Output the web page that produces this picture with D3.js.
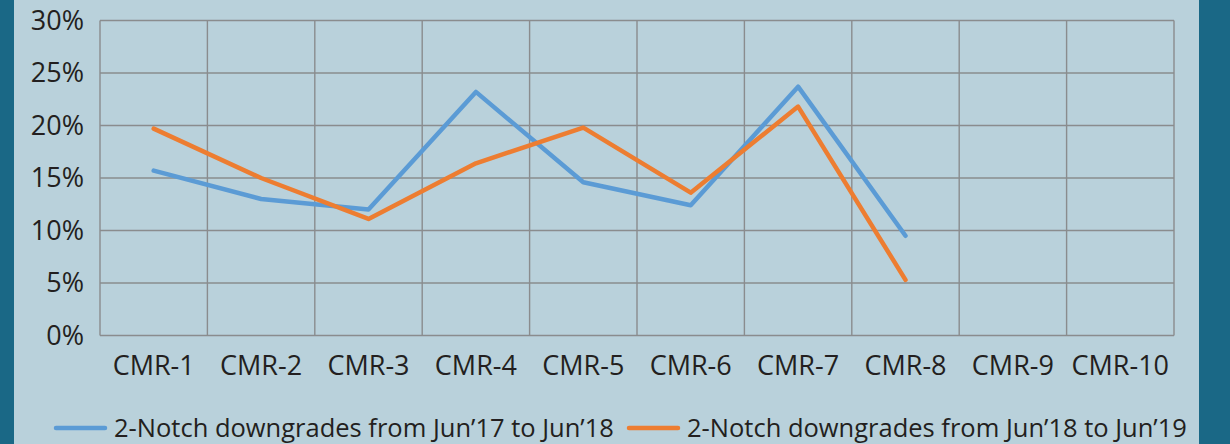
<!DOCTYPE html>
<html>
<head>
<meta charset="utf-8">
<script src="https://cdn.jsdelivr.net/npm/d3@7"></script>
<style>
  body { margin: 0; background: #1a6886; }
  svg text { font-family: "Open Sans", "Noto Sans", sans-serif; fill: #231f20; }
</style>
</head>
<body>
<svg id="chart"></svg>
<script>
// categories and series values (percent)
const categories = ['CMR-1', 'CMR-2', 'CMR-3', 'CMR-4', 'CMR-5', 'CMR-6', 'CMR-7', 'CMR-8', 'CMR-9', 'CMR-10'];
const series1 = [15.7, 13.0, 12.0, 23.2, 14.6, 12.4, 23.7, 9.5];
const series2 = [19.7, 15.0, 11.1, 16.4, 19.8, 13.6, 21.8, 5.3];
const seriesNames = ['2-Notch downgrades from Jun\u201917 to Jun\u201918', '2-Notch downgrades from Jun\u201918 to Jun\u201919'];
const yTicks = [0, 5, 10, 15, 20, 25, 30];

const width = 1230;
const height = 444;
const font = '"Open Sans", "Noto Sans", sans-serif';

const svg = d3.select('#chart')
  .attr('width', width)
  .attr('height', height);

// dark side bands + light panel
svg.append('rect').attr('width', width).attr('height', height).attr('fill', '#1a6886');
svg.append('rect').attr('x', 14).attr('width', 1185).attr('height', height).attr('fill', '#b9d1db');

const x = d3.scaleBand().domain(categories).range([100, 1174]);
const y = d3.scaleLinear().domain([0, 30]).range([335.5, 20.5]);

// horizontal grid
svg.append('g')
  .selectAll('line')
  .data(yTicks)
  .join('line')
  .attr('x1', 100).attr('x2', 1174)
  .attr('y1', d => y(d)).attr('y2', d => y(d))
  .attr('stroke', '#8a8c8e').attr('stroke-width', 1.4);

// vertical grid
const xEdges = categories.map(c => x(c)).concat([x.range()[1]]);
svg.append('g')
  .selectAll('line')
  .data(xEdges)
  .join('line')
  .attr('x1', d => d).attr('x2', d => d)
  .attr('y1', y(30)).attr('y2', y(0))
  .attr('stroke', '#8a8c8e').attr('stroke-width', 1.4);

// y axis labels
const yAxis = d3.axisLeft(y).tickValues(yTicks).tickFormat(d => d + '%').tickSize(0).tickPadding(16);
svg.append('g')
  .attr('transform', 'translate(100,0)')
  .call(yAxis)
  .call(g => g.select('.domain').remove())
  .selectAll('text')
  .attr('font-size', 27)
  .attr('font-family', font)
  .attr('fill', '#231f20');

// x axis labels
const xAxis = d3.axisBottom(x).tickSize(0).tickPadding(20);
svg.append('g')
  .attr('transform', `translate(0,${y(0)})`)
  .call(xAxis)
  .call(g => g.select('.domain').remove())
  .selectAll('text')
  .attr('font-size', 27)
  .attr('font-family', font)
  .attr('fill', '#231f20');

const line = d3.line()
  .x((d, i) => x(categories[i]) + x.bandwidth() / 2)
  .y(d => y(d));

const colors = ['#5b9bd5', '#ed7d31'];
[series1, series2].forEach((s, i) => {
  svg.append('path')
    .datum(s)
    .attr('d', line)
    .attr('fill', 'none')
    .attr('stroke', colors[i])
    .attr('stroke-width', 4.5)
    .attr('stroke-linejoin', 'round')
    .attr('stroke-linecap', 'round');
});

// legend
const legendX = [56, 629];
const legend = svg.append('g');
seriesNames.forEach((name, i) => {
  legend.append('line')
    .attr('x1', legendX[i]).attr('x2', legendX[i] + 49)
    .attr('y1', 428).attr('y2', 428)
    .attr('stroke', colors[i]).attr('stroke-width', 4.5)
    .attr('stroke-linecap', 'round');
  legend.append('text')
    .attr('x', legendX[i] + 58)
    .attr('y', 437)
    .attr('font-size', 25.5)
    .text(name);
});
</script>
</body>
</html>
